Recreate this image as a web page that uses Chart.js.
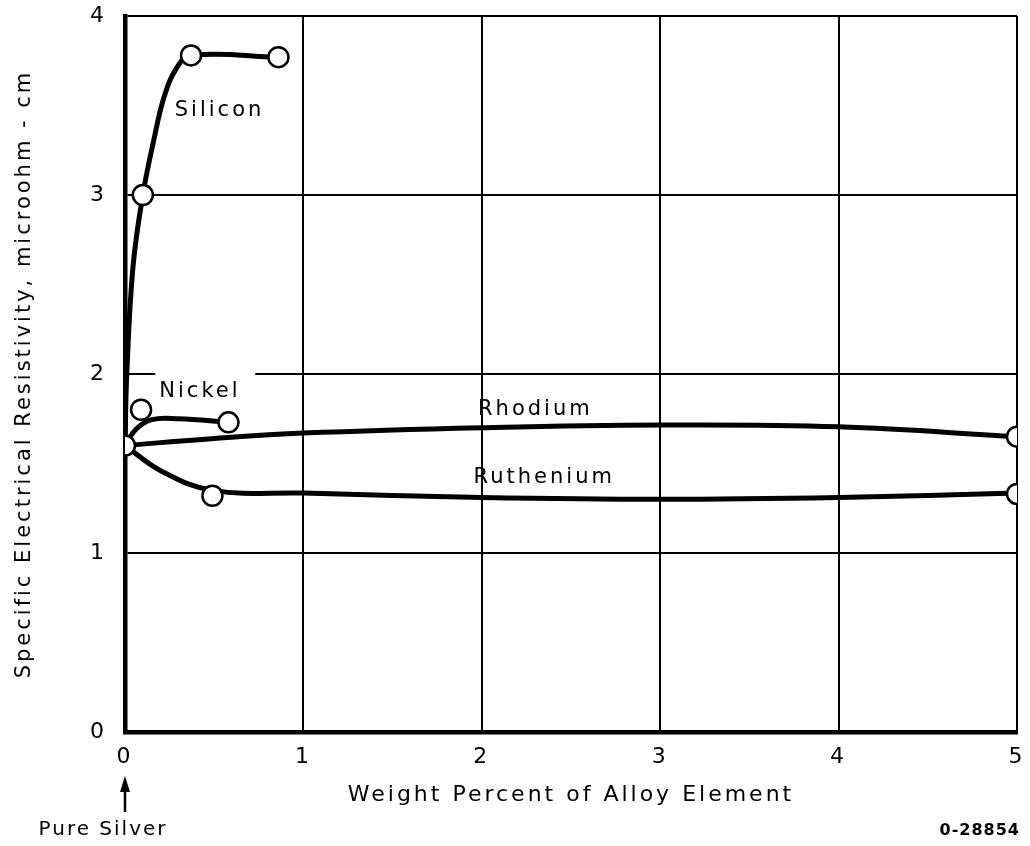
<!DOCTYPE html>
<html>
<head>
<meta charset="utf-8">
<script src="https://cdn.jsdelivr.net/npm/chart.js@4.4.0/dist/chart.umd.min.js"></script>
<style>
  html, body { margin: 0; padding: 0; background: #fff; }
  #wrap { width: 1030px; height: 846px; }
</style>
</head>
<body>
<div id="wrap"><canvas id="chart"></canvas></div>
<script>
// measured points (circles)
var pureSilver = [{ x: 0, y: 1.6 }];
var siliconPts = [{ x: 0.1, y: 3.0 }, { x: 0.37, y: 3.78 }, { x: 0.86, y: 3.77 }];
var nickelPts = [{ x: 0.09, y: 1.8 }, { x: 0.58, y: 1.73 }];
var rhodiumPts = [{ x: 5, y: 1.65 }];
var rutheniumPts = [{ x: 0.49, y: 1.32 }, { x: 5, y: 1.33 }];

// curves as drawn
var siliconX = [0, 0.01, 0.045, 0.1, 0.16, 0.22, 0.29, 0.37, 0.86];
var siliconY = [1.6, 2.0, 2.6, 3.0, 3.3, 3.55, 3.71, 3.78, 3.77];
var nickelX = [0, 0.06, 0.15, 0.3, 0.58];
var nickelY = [1.6, 1.69, 1.745, 1.75, 1.73];
var rhodiumX = [0, 0.5, 1, 2, 3, 4, 5];
var rhodiumY = [1.6, 1.64, 1.67, 1.70, 1.715, 1.705, 1.65];
var rutheniumX = [0, 0.2, 0.49, 1, 2, 3, 4, 5];
var rutheniumY = [1.6, 1.46, 1.35, 1.335, 1.31, 1.30, 1.31, 1.335];

var xTicks = [0, 1, 2, 3, 4, 5];
var yTicks = [0, 1, 2, 3, 4];

function pts(xs, ys) {
  return xs.map(function (x, i) { return { x: x, y: ys[i] }; });
}

var font = "'DejaVu Sans', sans-serif";

function curve(xs, ys) {
  return {
    type: "line",
    data: pts(xs, ys),
    borderColor: "#000",
    borderWidth: 5,
    pointRadius: 0,
    tension: 0.4,
    fill: false,
    order: 2
  };
}

function marks(data) {
  return {
    type: "scatter",
    data: data,
    pointRadius: 10,
    pointBackgroundColor: "#fff",
    pointBorderColor: "#000",
    pointBorderWidth: 2.5,
    showLine: false,
    order: 1
  };
}

var notes = {
  id: "notes",
  beforeDraw: function (chart) {
    chart.ctx.letterSpacing = "3px";
  },
  beforeDatasetsDraw: function (chart) {
    // the grid line at 2 is broken around the Nickel label
    var ctx = chart.ctx;
    var xs = chart.scales.x, ys = chart.scales.y;
    var y2 = ys.getPixelForValue(2);
    ctx.save();
    ctx.fillStyle = "#fff";
    ctx.fillRect(xs.getPixelForValue(0.17), y2 - 3, xs.getPixelForValue(0.73) - xs.getPixelForValue(0.17), 6);
    ctx.restore();
  },
  afterDraw: function (chart) {
    var ctx = chart.ctx;
    var xs = chart.scales.x, ys = chart.scales.y;
    ctx.save();
    ctx.fillStyle = "#000";
    ctx.textAlign = "center";
    ctx.textBaseline = "middle";
    ctx.font = "21px " + font;
    ctx.fillText("Silicon", xs.getPixelForValue(0.53), ys.getPixelForValue(3.47));
    ctx.fillText("Nickel", xs.getPixelForValue(0.42), ys.getPixelForValue(1.9));
    ctx.fillText("Ruthenium", xs.getPixelForValue(2.35), ys.getPixelForValue(1.42));
    ctx.fillText("Rhodium", xs.getPixelForValue(2.3), ys.getPixelForValue(1.8));

    // pure silver arrow
    var ax = xs.getPixelForValue(0);
    ctx.strokeStyle = "#000";
    ctx.lineWidth = 2.5;
    ctx.beginPath();
    ctx.moveTo(ax, 812);
    ctx.lineTo(ax, 786);
    ctx.stroke();
    ctx.beginPath();
    ctx.moveTo(ax, 776);
    ctx.lineTo(ax - 5, 792);
    ctx.lineTo(ax + 5, 792);
    ctx.closePath();
    ctx.fill();
    ctx.font = "20px " + font;
    ctx.letterSpacing = "2px";
    ctx.fillText("Pure Silver", 103, 830);

    ctx.textAlign = "right";
    ctx.font = "bold 16px " + font;
    ctx.letterSpacing = "1px";
    ctx.fillText("0-28854", 1020, 831);
    ctx.restore();
  }
};

var ctx = document.getElementById("chart").getContext("2d");
var chart = new Chart(ctx, {
  data: {
    datasets: [
      curve(siliconX, siliconY),
      curve(nickelX, nickelY),
      curve(rhodiumX, rhodiumY),
      curve(rutheniumX, rutheniumY),
      marks(siliconPts),
      marks(nickelPts),
      marks(rhodiumPts),
      marks(rutheniumPts),
      marks(pureSilver)
    ]
  },
  options: {
    responsive: true,
    maintainAspectRatio: false,
    animation: false,
    layout: { padding: { left: 0, right: 13, top: 16, bottom: 0 } },
    plugins: { legend: { display: false }, tooltip: { enabled: false } },
    scales: {
      x: {
        type: "linear",
        min: 0,
        max: 5,
        afterBuildTicks: function (s) { s.ticks = xTicks.map(function (v) { return { value: v }; }); },
        afterFit: function (s) { s.height = 114; s.paddingLeft = 0; s.paddingRight = 0; },
        grid: { color: "#000", lineWidth: 2, drawTicks: false },
        border: { color: "#000", width: 4.5 },
        ticks: { color: "#000", font: { family: font, size: 22 }, padding: 12 },
        title: {
          display: true,
          text: "Weight Percent of Alloy Element",
          color: "#000",
          font: { family: font, size: 22 },
          padding: { top: 0, bottom: 38 }
        }
      },
      y: {
        type: "linear",
        min: 0,
        max: 4,
        afterBuildTicks: function (s) { s.ticks = yTicks.map(function (v) { return { value: v }; }); },
        afterFit: function (s) { s.width = 125; s.paddingTop = 0; s.paddingBottom = 0; },
        grid: { color: "#000", lineWidth: 2, drawTicks: false },
        border: { color: "#000", width: 4.5 },
        ticks: { color: "#000", font: { family: font, size: 22 }, padding: 18 },
        title: {
          display: true,
          text: "Specific Electrical Resistivity, microohm - cm",
          color: "#000",
          font: { family: font, size: 21 },
          padding: { top: 12, bottom: 0 }
        }
      }
    }
  },
  plugins: [notes]
});
</script>
</body>
</html>
